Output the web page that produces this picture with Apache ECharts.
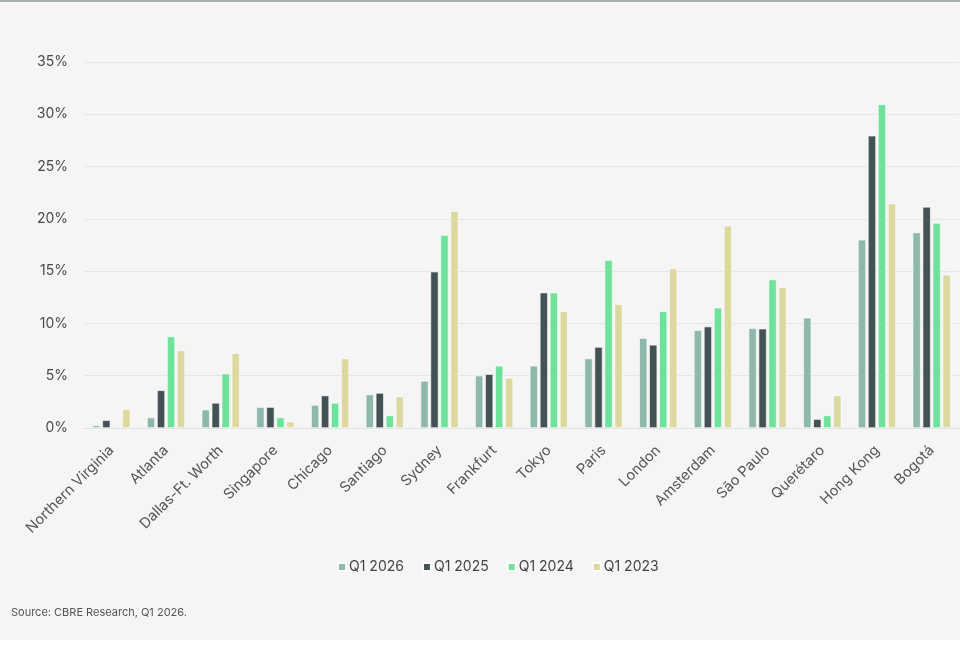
<!DOCTYPE html>
<html>
<head>
<meta charset="utf-8">
<script src="https://cdn.jsdelivr.net/npm/echarts@6/dist/echarts.min.js"></script>
<style>
  html, body { margin: 0; padding: 0; background: #ffffff; }
  #bg { position: absolute; left: 0; top: 0; width: 960px; height: 640px; background: #f5f5f5; border-top: 2px solid #a7afaf; box-sizing: border-box; }
  #chart { position: absolute; left: 0; top: 0; width: 960px; height: 654px; }
</style>
</head>
<body>
<div id="bg"></div>
<div id="chart"></div>
<script>
const categories = ["Northern Virginia", "Atlanta", "Dallas-Ft. Worth", "Singapore", "Chicago", "Santiago", "Sydney", "Frankfurt", "Tokyo", "Paris", "London", "Amsterdam", "São Paulo", "Querétaro", "Hong Kong", "Bogotá"];
const seriesNames = ["Q1 2026", "Q1 2025", "Q1 2024", "Q1 2023"];
const q1_2026 = [0.25, 1.0, 1.75, 2.0, 2.2, 3.2, 4.5, 5.0, 5.95, 6.65, 8.6, 9.35, 9.55, 10.55, 18.0, 18.7];
const q1_2025 = [0.75, 3.6, 2.4, 2.0, 3.1, 3.35, 14.95, 5.15, 12.95, 7.75, 7.95, 9.7, 9.5, 0.85, 27.95, 21.15];
const q1_2024 = [0.1, 8.75, 5.2, 1.0, 2.4, 1.2, 18.45, 5.95, 12.95, 16.05, 11.15, 11.5, 14.2, 1.2, 30.95, 19.6];
const q1_2023 = [1.8, 7.4, 7.15, 0.6, 6.65, 3.0, 20.75, 4.8, 11.15, 11.85, 15.25, 19.35, 13.45, 3.1, 21.45, 14.65];
const colors = ["#8fb8ad", "#435254", "#6ee29a", "#dcd8a0"];
const yTicks = { min: 0, max: 35, interval: 5 };

const chart = echarts.init(document.getElementById('chart'));
const values = [q1_2026, q1_2025, q1_2024, q1_2023];
const font = "Inter, 'Open Sans', sans-serif";
chart.setOption({
  backgroundColor: 'transparent',
  animation: false,
  color: colors,
  textStyle: { fontFamily: font },
  title: {
    text: 'Source: CBRE Research, Q1 2026.',
    left: 6, top: 602,
    textStyle: { fontSize: 11, fontWeight: 'normal', color: '#555', fontFamily: font }
  },
  legend: {
    data: seriesNames,
    left: 332, top: 555,
    icon: 'rect',
    itemWidth: 8, itemHeight: 8, itemGap: 18,
    textStyle: { fontSize: 14, color: '#444', fontFamily: font, padding: [0, 0, 0, -2] }
  },
  grid: { left: 84, right: 1, top: 62, height: 366, containLabel: false },
  xAxis: {
    type: 'category',
    data: categories,
    axisLine: { lineStyle: { color: '#dfe3e3', width: 1 } },
    axisTick: { show: false },
    axisLabel: { rotate: 45, fontSize: 14.5, color: '#555', margin: 20, interval: 0, fontFamily: font }
  },
  yAxis: {
    type: 'value',
    min: yTicks.min, max: yTicks.max, interval: yTicks.interval,
    axisLine: { show: false },
    axisTick: { show: false },
    splitLine: { lineStyle: { color: '#e2e6e6', width: 1 } },
    axisLabel: { formatter: '{value}%', fontSize: 14, color: '#4a4a4a', margin: 16, fontFamily: font }
  },
  series: seriesNames.map((n, i) => ({
    name: n,
    type: 'bar',
    data: values[i],
    barWidth: 8,
    barGap: '25%',
    itemStyle: { color: colors[i], borderColor: '#ffffff', borderWidth: 0.6 }
  }))
});
</script>
</body>
</html>
